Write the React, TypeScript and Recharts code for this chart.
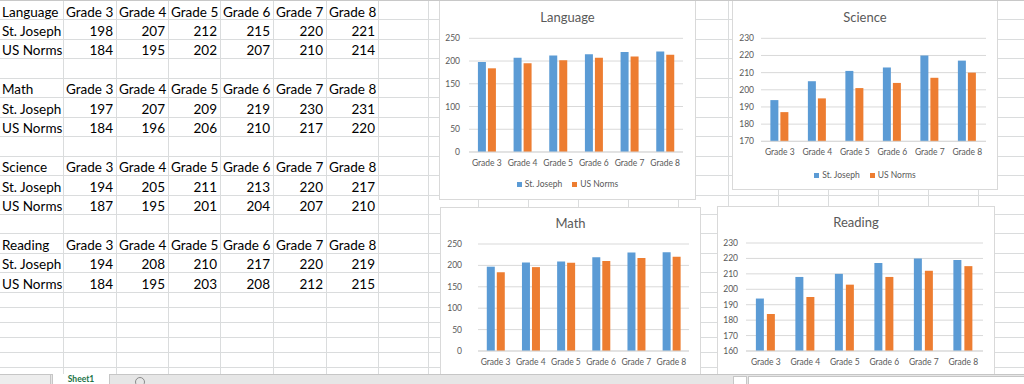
import React from 'react';
import { BarChart, Bar, XAxis, YAxis, CartesianGrid, Legend } from 'recharts';

const grades = ['Grade 3', 'Grade 4', 'Grade 5', 'Grade 6', 'Grade 7', 'Grade 8'];
const seriesNames = ['St. Joseph', 'US Norms'];

const languageStJoseph = [198, 207, 212, 215, 220, 221];
const languageUSNorms = [184, 195, 202, 207, 210, 214];
const mathStJoseph = [197, 207, 209, 219, 230, 231];
const mathUSNorms = [184, 196, 206, 210, 217, 220];
const scienceStJoseph = [194, 205, 211, 213, 220, 217];
const scienceUSNorms = [187, 195, 201, 204, 207, 210];
const readingStJoseph = [194, 208, 210, 217, 220, 219];
const readingUSNorms = [184, 195, 203, 208, 212, 215];

const ticks0to250 = [0, 50, 100, 150, 200, 250];
const scienceTicks = [170, 180, 190, 200, 210, 220, 230];
const readingTicks = [160, 170, 180, 190, 200, 210, 220, 230];

const FONT = 'Lato, "Liberation Sans", sans-serif';
const SHEET_GRID = '#dadcdd';
const CHART_LINE = '#d9d9d9';
const TEXT_GRAY = '#595959';
const BLUE = '#5B9BD5';
const ORANGE = '#ED7D31';

const colX = [0, 63, 116, 168, 220, 273, 326, 378, 428, 478, 528, 578, 628, 678, 728, 778, 828, 878, 928, 978, 1028];
const rowY: number[] = [];
for (let i = 0; i <= 15; i++) rowY.push(i * 19.45);
for (let i = 1; i <= 6; i++) rowY.push(291.75 + i * 15);

const tableBlocks = [
  { name: 'Language', sj: languageStJoseph, us: languageUSNorms, row: 0 },
  { name: 'Math', sj: mathStJoseph, us: mathUSNorms, row: 4 },
  { name: 'Science', sj: scienceStJoseph, us: scienceUSNorms, row: 8 },
  { name: 'Reading', sj: readingStJoseph, us: readingUSNorms, row: 12 },
];

const charts = [
  { title: 'Language', sj: languageStJoseph, us: languageUSNorms, ticks: ticks0to250, domain: [0, 250],
    left: 439, top: 0, width: 257, height: 200, plotLeft: 30, plotRight: 244, plotTop: 38.3, plotBottom: 152,
    yGap: 9, titleY: 17, legendY: 184, barGap: 2, showLegend: true },
  { title: 'Science', sj: scienceStJoseph, us: scienceUSNorms, ticks: scienceTicks, domain: [170, 230],
    left: 732, top: 0, width: 266, height: 190, plotLeft: 29, plotRight: 254, plotTop: 38.3, plotBottom: 141.3,
    yGap: 7, titleY: 17, legendY: 175, barGap: 2, showLegend: true },
  { title: 'Math', sj: mathStJoseph, us: mathUSNorms, ticks: ticks0to250, domain: [0, 250],
    left: 440, top: 207, width: 261, height: 200, plotLeft: 38, plotRight: 249, plotTop: 37, plotBottom: 144,
    yGap: 16, titleY: 16, legendY: 184, barGap: 2, showLegend: false },
  { title: 'Reading', sj: readingStJoseph, us: readingUSNorms, ticks: readingTicks, domain: [160, 230],
    left: 717, top: 206, width: 278, height: 200, plotLeft: 29, plotRight: 266, plotTop: 37, plotBottom: 145,
    yGap: 8, titleY: 16, legendY: 184, barGap: 3, showLegend: false },
];

const renderLegend = (props: any) => {
  const payload = props.payload || [];
  return (
    <div style={{ display: 'flex', justifyContent: 'center', gap: 10, fontFamily: FONT, fontSize: 8.5, color: TEXT_GRAY, lineHeight: '12px' }}>
      {payload.map((p: any) => (
        <span key={p.value} style={{ display: 'flex', alignItems: 'center' }}>
          <span style={{ width: 5, height: 5, background: p.color, marginRight: 3, display: 'inline-block' }} />
          {p.value}
        </span>
      ))}
    </div>
  );
};

function SubjectChart({ cfg }: { cfg: any }) {
  const data = grades.map((g, i) => ({ grade: g, sj: cfg.sj[i], us: cfg.us[i] }));
  const tickStyle = { fill: TEXT_GRAY, fontSize: 8.5, fontFamily: FONT };
  return (
    <div style={{ position: 'absolute', left: cfg.left, top: cfg.top, width: cfg.width, height: cfg.height, background: '#fff', border: `1px solid ${CHART_LINE}`, boxSizing: 'border-box' }}>
      <div style={{ position: 'absolute', left: -1, top: cfg.titleY - 9, width: cfg.width, textAlign: 'center', fontFamily: FONT, fontSize: 13, color: TEXT_GRAY, lineHeight: '16px', zIndex: 2 }}>
        {cfg.title}
      </div>
      <div style={{ position: 'absolute', left: -1, top: -1 }}>
        <BarChart
          width={cfg.width}
          height={cfg.height}
          data={data}
          margin={{ top: cfg.plotTop, right: cfg.width - cfg.plotRight, bottom: cfg.height - cfg.plotBottom - 20, left: 0 }}
          barCategoryGap="25%"
          barGap={cfg.barGap}
        >
          <CartesianGrid vertical={false} stroke={CHART_LINE} />
          <XAxis dataKey="grade" axisLine={{ stroke: CHART_LINE }} tickLine={false} tick={tickStyle} height={20} interval={0} />
          <YAxis domain={cfg.domain} ticks={cfg.ticks} width={cfg.plotLeft} axisLine={false} tickLine={false} tickSize={0} tickMargin={cfg.yGap} tick={tickStyle} interval={0} />
          <Bar dataKey="sj" name={seriesNames[0]} fill={BLUE} isAnimationActive={false} />
          <Bar dataKey="us" name={seriesNames[1]} fill={ORANGE} isAnimationActive={false} />
          {cfg.showLegend && (
            <Legend layout="horizontal" verticalAlign="middle" align="center" wrapperStyle={{ top: cfg.legendY - 6, left: 0, width: cfg.width }} content={renderLegend} />
          )}
        </BarChart>
      </div>
    </div>
  );
}

function Sheet() {
  const cells: React.ReactNode[] = [];
  tableBlocks.forEach((b) => {
    const rows = [
      { label: b.name, vals: grades, header: true },
      { label: seriesNames[0], vals: b.sj, header: false },
      { label: seriesNames[1], vals: b.us, header: false },
    ];
    rows.forEach((r, ri) => {
      const y = rowY[b.row + ri];
      cells.push(
        <div key={`${b.name}-${ri}-l`} style={{ position: 'absolute', left: 2, top: y + 3.5, lineHeight: '16px', fontSize: 13.5 }}>{r.label}</div>
      );
      r.vals.forEach((v: any, ci: number) => {
        const c = ci + 1;
        if (r.header) {
          cells.push(
            <div key={`${b.name}-${ri}-${ci}`} style={{ position: 'absolute', left: colX[c] + 3, top: y + 3.5, lineHeight: '16px', fontSize: 13.5, whiteSpace: 'nowrap' }}>{v}</div>
          );
        } else {
          cells.push(
            <div key={`${b.name}-${ri}-${ci}`} style={{ position: 'absolute', left: colX[c], width: colX[c + 1] - colX[c] - 3, textAlign: 'right', top: y + 3.5, lineHeight: '16px', fontSize: 13.5 }}>{v}</div>
          );
        }
      });
    });
  });
  return (
    <>
      {colX.slice(1).map((x) => (
        <div key={`c${x}`} style={{ position: 'absolute', left: x, top: 0, width: 1, height: 384, background: SHEET_GRID }} />
      ))}
      {rowY.slice(1).map((y) => (
        <div key={`r${y}`} style={{ position: 'absolute', left: 0, top: Math.round(y), width: 1024, height: 1, background: SHEET_GRID }} />
      ))}
      {cells}
    </>
  );
}

export default function App() {
  return (
    <div style={{ position: 'absolute', left: 0, top: 0, width: 1024, height: 384, overflow: 'hidden', background: '#fff', fontFamily: FONT, color: '#000' }}>
      <Sheet />
      <div style={{ position: 'absolute', left: 0, top: 0, width: 1024, height: 1, background: '#c8c8c8', zIndex: 3 }} />
      {charts.map((c) => (
        <SubjectChart key={c.title} cfg={c} />
      ))}
      <div style={{ position: 'absolute', left: 0, top: 374, width: 1024, height: 10, background: '#e6e6e6', borderTop: '1px solid #c6c6c6', zIndex: 5, boxSizing: 'border-box' }}>
        <div style={{ position: 'absolute', left: 0, top: 0, width: 50, height: 9, background: '#ededed', borderRight: '1px solid #c6c6c6' }} />
        <div style={{ position: 'absolute', left: 52, top: -1, width: 56, height: 10, background: '#fff', borderLeft: '1px solid #c6c6c6', borderRight: '1px solid #c6c6c6' }}>
          <div style={{ position: 'absolute', left: 0, width: 56, textAlign: 'center', top: 1, fontSize: 8.5, fontWeight: 700, color: '#217346', lineHeight: '9px' }}>Sheet1</div>
        </div>
        <div style={{ position: 'absolute', left: 135, top: 2, width: 10, height: 10, borderRadius: '50%', border: '1px solid #8a8a8a', boxSizing: 'border-box' }} />
        <div style={{ position: 'absolute', left: 733, top: 1, width: 14, height: 9, background: '#fff', border: '1px solid #c6c6c6', boxSizing: 'border-box' }} />
        <div style={{ position: 'absolute', left: 748, top: 1, width: 280, height: 9, background: '#fff', border: '1px solid #c6c6c6', boxSizing: 'border-box' }} />
      </div>
    </div>
  );
}
